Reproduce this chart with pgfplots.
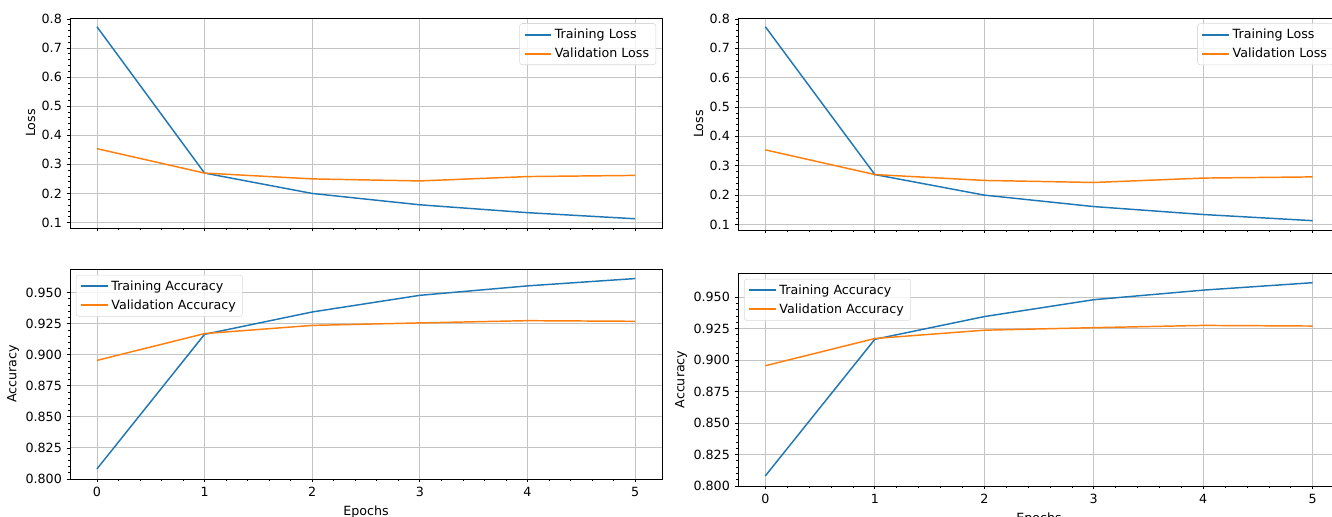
\documentclass[border=0pt]{standalone}
\usepackage{fontspec}
\setmainfont{DejaVu Sans}
\usepackage{pgfplots}
\pgfplotsset{compat=1.18}

\definecolor{tabblue}{HTML}{1F77B4}
\definecolor{taborange}{HTML}{FF7F0E}
\definecolor{gridgray}{HTML}{C4C4C4}

% 1 px of the reference = 0.75pt
\pgfplotsset{
  base/.style={
    scale only axis,
    xmin=-0.25, xmax=5.25,
    xtick={0,1,2,3,4,5},
    minor x tick num=4,
    minor y tick num=4,
    tick align=outside,
    xtick pos=bottom, ytick pos=left,
    major tick length=2.6pt,
    minor tick length=1.5pt,
    grid=major,
    major grid style={gridgray, line width=0.6pt},
    axis line style={black, line width=0.6pt},
    every tick/.style={black, line width=0.5pt},
    tick label style={font=\fontsize{9.5}{11}\selectfont},
    label style={font=\fontsize{9.5}{11}\selectfont},
    ylabel style={yshift=-2pt},
    /pgf/number format/assume math mode=true,
    legend cell align=left,
    legend style={font=\fontsize{9.5}{11}\selectfont, draw=gray!30,
      rounded corners=2pt, fill=white, fill opacity=0.8, text opacity=1,
      draw opacity=1, inner xsep=3pt, inner ysep=2pt, row sep=1.5pt},
    legend image code/.code={\draw[#1, line width=1.4pt, draw opacity=1]
      (0pt,0pt) -- (20pt,0pt);},
    every axis plot/.append style={line width=1.1pt, no markers},
  },
  lossax/.style={
    base,
    ymin=0.0813, ymax=0.8029,
    ytick={0.1,0.2,0.3,0.4,0.5,0.6,0.7,0.8},
    yticklabel style={/pgf/number format/fixed, /pgf/number format/precision=1,
      /pgf/number format/fixed zerofill},
    xticklabels={},
    ylabel={Loss},
    legend style={at={(0.99,0.975)}, anchor=north east},
  },
  accax/.style={
    base,
    ymin=0.79995, ymax=0.9690,
    ytick={0.800,0.825,0.850,0.875,0.900,0.925,0.950},
    yticklabel style={/pgf/number format/fixed, /pgf/number format/precision=3,
      /pgf/number format/fixed zerofill},
    ylabel={Accuracy},
    xlabel={Epochs},
    legend style={at={(0.01,0.972)}, anchor=north west},
  },
}

\pgfplotstableread{
epoch trainloss valloss trainacc valacc
0 0.773 0.354 0.808 0.8954
1 0.270 0.270 0.9164 0.9170
2 0.200 0.250 0.9344 0.9236
3 0.161 0.243 0.9478 0.9256
4 0.134 0.258 0.9554 0.9274
5 0.113 0.262 0.9613 0.9269
}\hist

\begin{document}
\begin{tikzpicture}
\useasboundingbox (0,0) rectangle (999pt,387.75pt);
\clip (0,0) rectangle (999pt,387.75pt);

% left figure
\begin{axis}[lossax, anchor=north west, at={(52.5pt,374.25pt)},
  width=444pt, height=157.5pt]
\addplot[tabblue] table[x=epoch, y=trainloss] {\hist};
\addlegendentry{Training Loss}
\addplot[taborange] table[x=epoch, y=valloss] {\hist};
\addlegendentry{Validation Loss}
\end{axis}

\begin{axis}[accax, anchor=north west, at={(52.5pt,186pt)},
  width=444pt, height=157.5pt]
\addplot[tabblue] table[x=epoch, y=trainacc] {\hist};
\addlegendentry{Training Accuracy}
\addplot[taborange] table[x=epoch, y=valacc] {\hist};
\addlegendentry{Validation Accuracy}
\end{axis}

% right figure (cut off at the right edge)
\begin{axis}[lossax, anchor=north west, at={(553.5pt,374.25pt)},
  width=451.5pt, height=159pt]
\addplot[tabblue] table[x=epoch, y=trainloss] {\hist};
\addlegendentry{Training Loss}
\addplot[taborange] table[x=epoch, y=valloss] {\hist};
\addlegendentry{Validation Loss}
\end{axis}

\begin{axis}[accax, anchor=north west, at={(553.5pt,183pt)},
  width=451.5pt, height=159.75pt]
\addplot[tabblue] table[x=epoch, y=trainacc] {\hist};
\addlegendentry{Training Accuracy}
\addplot[taborange] table[x=epoch, y=valacc] {\hist};
\addlegendentry{Validation Accuracy}
\end{axis}
\end{tikzpicture}
\end{document}
